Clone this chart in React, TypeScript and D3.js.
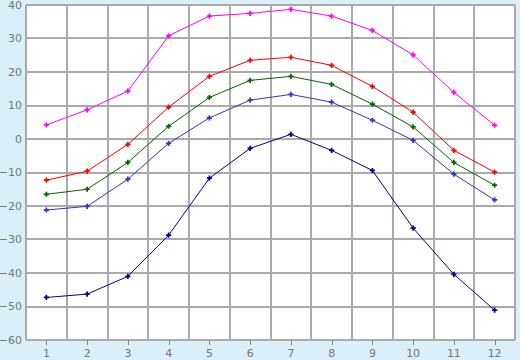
import React from "react";
import * as d3 from "d3";

const months = [1, 2, 3, 4, 5, 6, 7, 8, 9, 10, 11, 12];
const yTicks = [-60, -50, -40, -30, -20, -10, 0, 10, 20, 30, 40];
const magentaValues = [4.2, 8.7, 14.3, 30.8, 36.7, 37.5, 38.7, 36.7, 32.4, 25.1, 13.9, 4.1];
const redValues = [-12.3, -9.6, -1.6, 9.5, 18.7, 23.5, 24.4, 22.0, 15.7, 8.0, -3.4, -9.9];
const greenValues = [-16.5, -15.0, -7.0, 3.8, 12.4, 17.5, 18.7, 16.3, 10.4, 3.6, -7.0, -13.8];
const blueValues = [-21.2, -20.1, -12.0, -1.3, 6.3, 11.6, 13.3, 11.0, 5.6, -0.4, -10.5, -18.2];
const navyValues = [-47.3, -46.3, -41.0, -28.7, -11.7, -2.8, 1.4, -3.4, -9.4, -26.6, -40.4, -51.1];

const seriesList = [
  { name: "max", color: "#ff00ff", values: magentaValues },
  { name: "avgmax", color: "#ff0000", values: redValues },
  { name: "avg", color: "#006600", values: greenValues },
  { name: "avgmin", color: "#3333cc", values: blueValues },
  { name: "min", color: "#000099", values: navyValues },
];

export default function App() {
  const W = 520, H = 360;
  const left = 26, right = 515, top = 5, bottom = 340;
  const x = d3.scaleBand<number>().domain(months).range([left, right]).padding(0);
  const y = d3.scaleLinear().domain([-60, 40]).range([bottom, top]);
  const cx = (m: number) => (x(m) as number) + x.bandwidth() / 2;
  const line = d3.line<number>().x((_, i) => cx(months[i])).y((v) => y(v));
  const fmt = d3.format("d");
  const marker = d3.symbol().type(d3.symbolCross).size(15)();
  const grid = "#aaaaaa";
  const textColor = "#777777";

  return (
    <svg width={W} height={H} style={{ position: "absolute", left: 0, top: 0 }}
      fontFamily="DejaVu Sans, Verdana, sans-serif">
      <rect x={0} y={0} width={W} height={H} fill="#daeff7" />
      <rect x={left} y={top} width={right - left} height={bottom - top} fill="#ffffff" />
      <g shapeRendering="crispEdges" stroke={grid} strokeWidth={2}>
        {months.map((m) => (
          <line key={"v" + m} x1={Math.round(x(m) as number)} x2={Math.round(x(m) as number)} y1={top} y2={bottom} />
        ))}
        <line x1={right} x2={right} y1={top} y2={bottom} />
        {yTicks.map((t) => (
          <line key={"h" + t} x1={left} x2={right} y1={Math.round(y(t))} y2={Math.round(y(t))} />
        ))}
        {months.map((m) => (
          <line key={"t" + m} x1={Math.round(cx(m))} x2={Math.round(cx(m))} y1={bottom} y2={bottom + 5} strokeWidth={1} stroke="#888" />
        ))}
      </g>
      {yTicks.map((t) => (
        <text key={"yl" + t} x={22} y={y(t)} dy="0.35em" textAnchor="end" fontSize={11} fill={textColor}>
          {fmt(t).replace("-", "\u2212")}
        </text>
      ))}
      {months.map((m) => (
        <text key={"xl" + m} x={cx(m)} y={357} textAnchor="middle" fontSize={11} fill={textColor}>
          {m}
        </text>
      ))}
      {seriesList.map((s) => (
        <g key={s.name}>
          <path d={line(s.values) || ""} fill="none" stroke={s.color} strokeWidth={1} />
          {s.values.map((v, i) => (
            <path key={i} d={marker || ""} transform={`translate(${cx(months[i])},${y(v)})`} fill={s.color} />
          ))}
        </g>
      ))}
    </svg>
  );
}
